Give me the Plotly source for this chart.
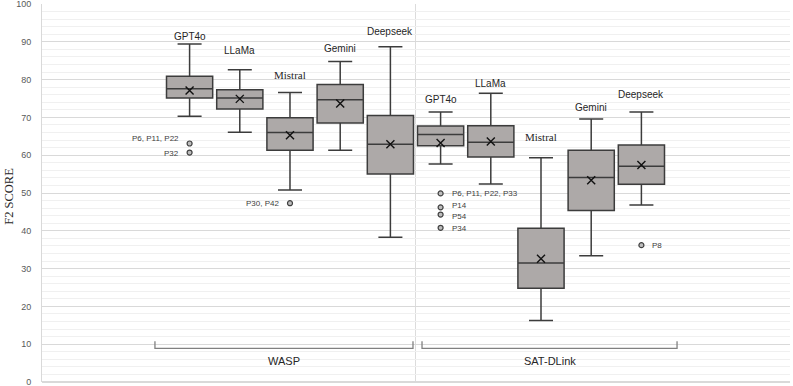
import plotly.graph_objects as go

# ---------------- data ----------------
groups = ["WASP", "SAT-DLink"]
models = ["GPT4o", "LLaMa", "Mistral", "Gemini", "Deepseek"]

upper = [89.4, 82.6, 76.6, 84.8, 88.7, 71.4, 76.4, 59.3, 69.6, 71.4]
q3 = [80.9, 77.3, 69.9, 78.7, 70.5, 67.7, 67.8, 40.7, 61.3, 62.7]
median = [77.6, 75.1, 66.0, 74.7, 62.9, 65.5, 63.4, 31.5, 54.1, 57.1]
mean = [77.1, 74.9, 65.3, 73.7, 62.9, 63.2, 63.6, 32.6, 53.4, 57.4]
q1 = [75.1, 72.2, 61.3, 68.5, 55.0, 62.5, 59.5, 24.8, 45.4, 52.3]
lower = [70.3, 66.1, 50.8, 61.3, 38.3, 57.7, 52.4, 16.3, 33.4, 46.8]

outlier_box = [0, 0, 2, 5, 5, 5, 5, 9]
outlier_val = [63.1, 60.7, 47.3, 49.9, 46.2, 44.3, 40.8, 36.2]
outlier_lbl = ["P6, P11, P22", "P32", "P30, P42", "P6, P11, P22, P33",
               "P14", "P54", "P34", "P8"]

# ---------------- styling helpers ----------------
label_shift = [8, 19, 17, 13, 15, 13, 10, 21, 11, 18]  # pixel offsets of model labels
outlier_text_shift = [5, -1, 0, 0, 1.5, -1.5, -1, 0]  # pixel offsets of outlier labels
bracket_pad_left = [0.69, 0.37]
bracket_pad_right = [0.45, 0.71]
sans = "Liberation Sans"
serif = "Liberation Serif"

xcats = [f"{g} {m}" for g in groups for m in models]
model_of = [m for g in groups for m in models]

fig = go.Figure()

fig.add_trace(go.Box(
    x=xcats, q1=q1, median=median, q3=q3,
    lowerfence=lower, upperfence=upper,
    boxpoints=False, width=0.92, whiskerwidth=0.52,
    fillcolor="#ADA9A8", line=dict(color="#3c3c3c", width=1.5),
    showlegend=False, hoverinfo="skip",
))

fig.add_trace(go.Scatter(
    x=xcats, y=mean, mode="markers",
    marker=dict(symbol="x-thin-open", size=8, color="#111111",
                line=dict(color="#111111", width=1.4)),
    showlegend=False, hoverinfo="skip",
))

o_x = [xcats[i] for i in outlier_box]
fig.add_trace(go.Scatter(
    x=o_x, y=outlier_val, mode="markers",
    marker=dict(symbol="circle", size=5, color="#bdbdbd",
                line=dict(color="#404040", width=1.2)),
    showlegend=False, hoverinfo="skip",
))
for k, (xb, v, t) in enumerate(zip(outlier_box, outlier_val, outlier_lbl)):
    left = xb < len(models)
    fig.add_annotation(x=xcats[xb], y=v, text=t, showarrow=False,
                       xanchor="right" if left else "left",
                       xshift=-9 if left else 9, yshift=outlier_text_shift[k],
                       font=dict(family=sans, size=8, color="#404040"))

# model labels above whiskers
for i, (xc, m) in enumerate(zip(xcats, model_of)):
    fam, sz = (serif, 11) if m == "Mistral" else (sans, 10)
    fig.add_annotation(x=xc, y=upper[i], text=m, showarrow=False,
                       yanchor="middle", yshift=label_shift[i],
                       font=dict(family=fam, size=sz, color="#262626"))

# group brackets and names
n = len(models)
for gi, g in enumerate(groups):
    a = gi * n - bracket_pad_left[gi]
    b = gi * n + n - 1 + bracket_pad_right[gi]
    yb, yt = 8.9, 10.8
    fig.add_shape(type="path",
                  path=f"M {a},{yt} L {a},{yb} L {b},{yb} L {b},{yt}",
                  line=dict(color="#808080", width=1.3), layer="above")
    fig.add_annotation(x=(a + b) / 2, y=yb, text=g, showarrow=False,
                       yanchor="top", yshift=-5,
                       font=dict(family=sans, size=11, color="#262626"))

# separator between groups
fig.add_shape(type="line", x0=n - 0.5, x1=n - 0.5, y0=0, y1=1, yref="paper",
              line=dict(color="#dcdcdc", width=1), layer="below")

# y-axis title
fig.add_annotation(text="F2 SCORE", xref="paper", yref="paper", x=0, y=0.49,
                   xanchor="center", xshift=-33, textangle=-90, showarrow=False,
                   font=dict(family=serif, size=12.5, color="#262626"))

fig.update_layout(
    width=793, height=386,
    margin=dict(l=42, r=3, t=4, b=4),
    paper_bgcolor="white", plot_bgcolor="white",
    xaxis=dict(type="category", categoryorder="array", categoryarray=xcats,
               range=[-2.94, 11.96], showticklabels=False, showgrid=False,
               zeroline=False, showline=False, automargin=False),
    yaxis=dict(range=[0, 100], dtick=10, showgrid=True, gridcolor="#d9d9d9",
               gridwidth=1, zeroline=True, zerolinecolor="#d9d9d9",
               showline=True, linecolor="#d9d9d9", linewidth=1,
               ticklabelstandoff=8, automargin=False, ticklabeloverflow="allow",
               tickfont=dict(family=sans, size=9, color="#595959"),
               minor=dict(dtick=2, showgrid=True, gridcolor="#f0f0f0")),
)

fig.write_html("out.html", config={"displayModeBar": False},
               post_script="document.body.style.margin='0';document.body.style.overflow='hidden';")
